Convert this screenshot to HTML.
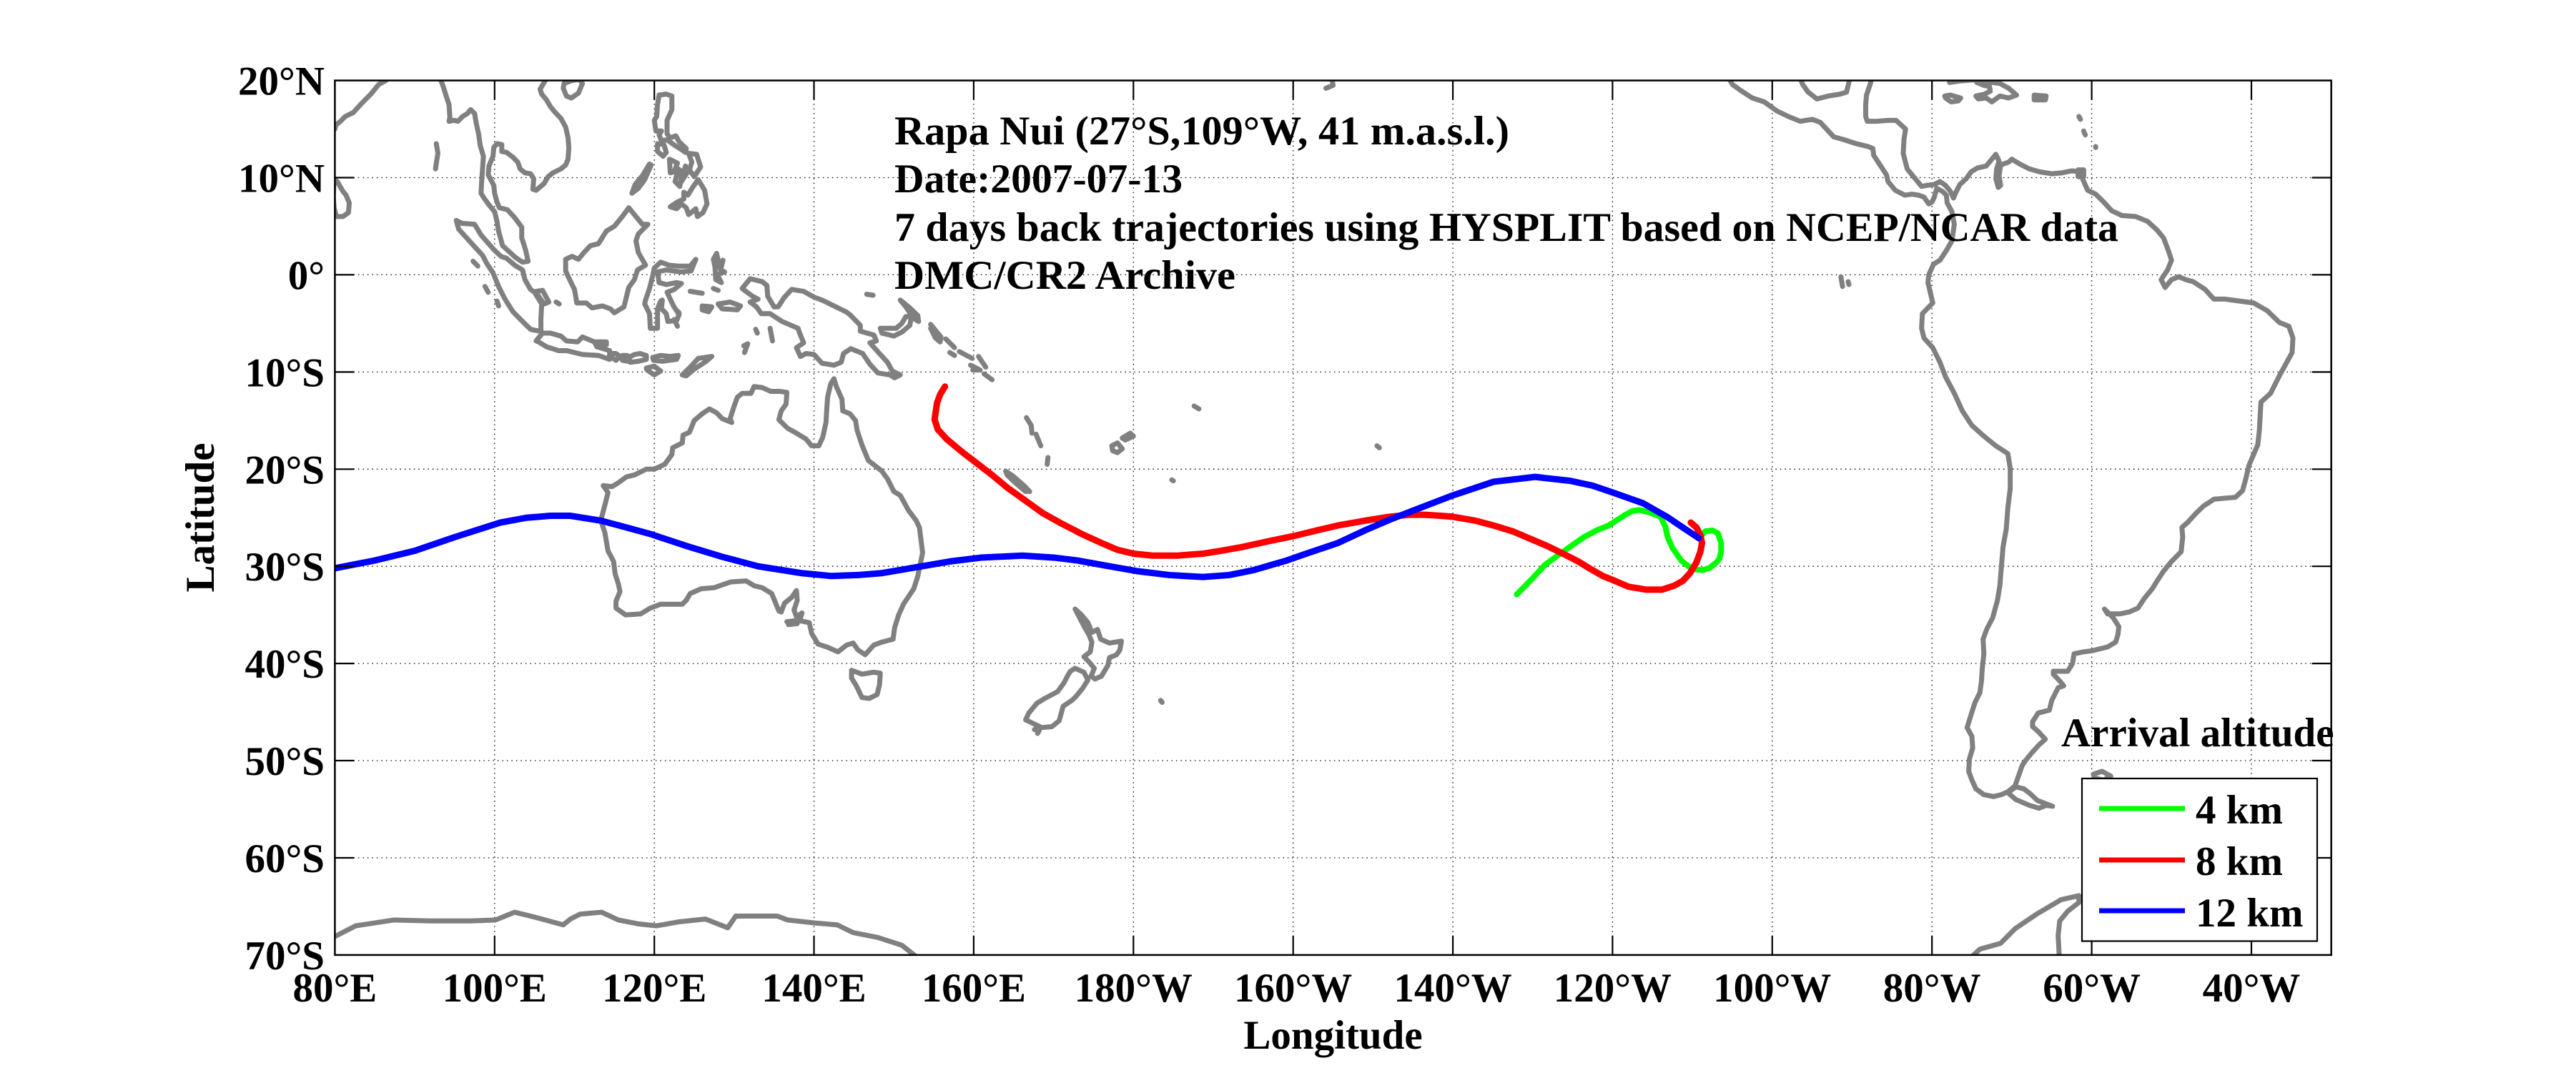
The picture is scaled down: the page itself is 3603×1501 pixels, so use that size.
<!DOCTYPE html>
<html><head><meta charset="utf-8">
<style>
html,body{margin:0;padding:0;background:#fff;}
svg{display:block;}
.c{fill:none;stroke:#808080;stroke-width:7;vector-effect:non-scaling-stroke;stroke-linejoin:round;stroke-linecap:round;}
.t{fill:none;stroke-width:9;vector-effect:non-scaling-stroke;stroke-linejoin:round;stroke-linecap:round;}
text{font-family:"Liberation Serif","Times New Roman",serif;font-weight:bold;font-size:57px;fill:#000;}
.g{stroke:#000;stroke-width:1.3;stroke-dasharray:1.5 5;fill:none;}
.k{stroke:#000;stroke-width:2.2;}
</style></head><body>
<svg width="3603" height="1501" viewBox="0 0 3603 1501" xmlns="http://www.w3.org/2000/svg">
<rect width="3603" height="1501" fill="#fff"/>
<defs><clipPath id="ax"><rect x="468.4" y="112.6" width="2792.3" height="1223.3"/></clipPath></defs>

<!-- grid -->
<g class="g">
<path d="M691.8 112.6V1335.9M915.2 112.6V1335.9M1138.5 112.6V1335.9M1361.9 112.6V1335.9M1585.3 112.6V1335.9M1808.7 112.6V1335.9M2032.1 112.6V1335.9M2255.4 112.6V1335.9M2478.8 112.6V1335.9M2702.2 112.6V1335.9M2925.6 112.6V1335.9M3149 112.6V1335.9"/>
<path d="M468.4 248.5H3260.7M468.4 384.4H3260.7M468.4 520.4H3260.7M468.4 656.3H3260.7M468.4 792.2H3260.7M468.4 928.1H3260.7M468.4 1064H3260.7M468.4 1200H3260.7"/>
</g>

<g clip-path="url(#ax)">
<g transform="matrix(11.169 0 0 -13.592 -425.12 384.44)">
<!-- India & Sri Lanka -->
<path class="c" d="M80.0,15.0 80.1,15.4 80.7,15.8 81.3,16.3 82.3,16.7 83.3,17.6 84.5,18.6 85.5,19.6 86.4,20 87,21"/>
<path class="c" d="M79.9,9.8 80.3,9.6 81,8.6 81.4,8.2 81.8,7.4 81.7,6.4 81,6 80.2,6 79.9,6.9 79.8,8 79.9,9.8"/>
<path class="c" d="M92.7,13.5 92.9,12.5 92.7,11.5 92.6,10.9"/>
<!-- SE Asia mainland -->
<path class="c" d="M93.2,20.2 93.6,19.3 93.9,18.5 94.3,17.5 94.4,16.2 94.3,15.8 94.9,15.9 95.4,15.8 96,16.3 96.6,16.6 97.0,17.0 97.5,16.6 97.7,15.6 98.0,14.5 98.2,13.3 98.6,12.2 98.5,11.0 98.4,9.9 98.3,8.4 98.6,8.0 99.2,7.3 100.0,6.5 100.3,5.5 100.5,4.5 101.0,3.0 101.8,2.4 102.6,1.8 103.5,1.3 104.2,1.4 103.9,2.5 103.4,3.8 103.4,4.9 102.5,5.9 101.6,6.7 100.6,6.9 100.3,7.5 100.0,8.4 99.9,9.2 99.2,10.3 99.3,11.2 99.8,12.2 99.9,13.1 100.3,13.5 100.9,13.4 100.9,12.7 101.5,12.6 102.3,12.1 102.9,11.6 103.2,10.9 103.8,10.5 104.5,10.4 104.9,9.9 104.8,8.8 105.2,8.7 106.2,9.4 106.7,10.1 107.3,10.5 108.3,10.9 108.9,11.3 109.2,11.9 109.3,13.1 109.2,14.1 108.9,15.2 108.3,16.1 107.5,16.8 107.0,17.3 106.5,18.0 105.9,18.6 105.7,19.1 106.2,19.8 106.6,20.3 107.0,20.8"/>
<path class="c" d="M108.6,19.2 109,18.4 109.6,18.2 110.5,18.7 111,19.7 110.6,20.1 109.7,20 108.7,19.7 108.6,19.2"/>
<!-- Sumatra -->
<path class="c" d="M95.2,5.6 95.9,5.3 97.5,5.2 98.3,4.1 99.9,2.6 100.8,1.9 101.5,1.7 102.5,1 103.5,0.5 103.8,-0.5 104.5,-1.5 105,-1.8 105.9,-3 105.8,-4.5 105.8,-5.8 105,-5.7 104.5,-5.6 103.5,-4.8 102.3,-3.8 101.3,-2.5 100.5,-1.2 99.8,0.2 99,1.2 98.5,2 97.6,2.8 96.5,3.8 95.5,4.7 95.2,5.6"/>
<path class="c" d="M97.3,1.4 97.9,0.9M98.8,-1.2 99.2,-1.8M100.3,-2.7 100.5,-3.2M105.2,-1.7 106,-1.6 106.8,-2.8 106.2,-3 105.5,-2.2 105.2,-1.7M107.7,-2.8 108.1,-3"/>
<!-- Java & Lesser Sunda -->
<path class="c" d="M105.2,-6.8 106,-6 107,-6 108.3,-6.3 109,-6.8 110.4,-6.9 111,-6.4 112.5,-6.9 112.8,-7.4 114.4,-7.8 114.4,-8.7 113,-8.3 111,-8.2 109,-7.8 108,-7.8 106.5,-7.4 105.5,-6.9 105.2,-6.8"/>
<path class="c" d="M112.7,-6.9 114,-6.9 114,-7.2 112.8,-7.2Z M114.5,-8.1 115.2,-8.1 115.7,-8.4 115.2,-8.8 114.5,-8.4Z M116,-8.3 116.6,-8.3 116.7,-8.9 116,-8.8Z M116.8,-8.5 117.5,-8.2 118.2,-8.1 119,-8.3 119,-8.7 118,-8.9 117,-9.0Z M119.8,-8.5 120.8,-8.3 122,-8.4 123,-8.3 122.8,-8.7 121,-8.9 119.9,-8.8Z M119,-9.6 120,-9.4 120.8,-9.9 120,-10.3 119.1,-9.8Z M123.5,-10.3 124.5,-9.5 125.5,-8.6 127.2,-8.4 126.5,-8.9 125,-9.7 124,-10.4Z"/>
<!-- Borneo -->
<path class="c" d="M108.9,1.6 109.7,1.9 110.5,1.6 111.2,2.3 112,3 113,3.2 114,4.5 115,5 116,6 116.8,6.9 117.7,6 118.5,5.2 119.2,5.2 118,4.2 117.7,3.5 118,2.3 118.9,1 117.9,0.5 117.5,-0.5 116.8,-1.3 116.5,-2.3 116.2,-3.3 115,-3.9 114.5,-3.5 113.5,-3.2 112.2,-3.4 111.5,-2.9 110.3,-2.9 110,-1.5 109.4,-0.5 108.9,0.4 108.9,1.6"/>
<!-- Sulawesi -->
<path class="c" d="M120.8,1.3 121.8,1.0 123,0.9 124.5,0.9 125.2,1.6 124.6,0.4 123.3,0.3 121.5,0.5 120.4,0.3 120.6,-0.8 121.5,-1 122.8,-0.8 123.4,-0.9 122.5,-1.5 121.6,-1.8 122.4,-3.2 123.1,-4.1 122.8,-4.7 121.7,-4.8 121.5,-4.0 120.9,-3.5 121,-2.6 120.8,-2.7 120.4,-3.5 120.4,-5.5 119.5,-5.5 119.4,-4 118.8,-3 118.9,-2.6 119.4,-1.4 119.8,-0.1 120.0,0.7 120.8,1.3"/>
<path class="c" d="M122.5,-4.6 122.9,-5.3M122.7,-3.6 123.1,-3.9"/>
<!-- Philippines -->
<path class="c" d="M120.6,18.5 121.5,18.6 122.2,18.4 122.2,17 121.6,15.9 121.6,14.5 122,14.1 122.7,14.3 123.1,13.7 124,13 123.9,12.6 123.2,13 122.6,13.3 121.6,13.9 120.9,13.8 120.6,14.4 120.9,14.8 120.2,14.8 120,15.9 120.3,16.3 120.4,17.5 120.6,18.5"/>
<path class="c" d="M120.4,13.5 121.2,13.4 121.5,12.6 121.1,12.2 120.4,12.7Z M121.9,11.9 122.9,11.5 122.5,10.6 122,10.5Z M123,10.9 123.5,10.6 123.2,9.1 122.6,9.6Z M123.9,11.2 124.1,10.5 123.4,9.6Z M124.3,12.5 125.3,12.4 125.8,11.1 125,10.1 124.4,10.8 124.7,11.6Z"/>
<path class="c" d="M122,7 122.9,7.5 123.7,7.8 123.7,8.5 124.2,8.2 124.8,9 125.5,9.8 126.3,8.7 126.6,7.3 126.1,6.4 125.4,6.0 125.2,6.8 124.3,6.2 124,6.9 123.4,7.3 122.8,6.8 122,7"/>
<path class="c" d="M117.2,8.4 118,8.9 118.8,9.8 119.6,11.3 119.4,11.4 118.5,10.2 117.6,9.3 117.2,8.4"/>
<!-- Moluccas -->
<path class="c" d="M127.8,2.2 128,1.5 127.8,0.8 128.6,1.5 128.3,0.5 128.8,0.3 127.9,0 128.4,-0.8 127.7,-0.5 127.6,0.8 127.4,1.6 127.8,2.2"/>
<path class="c" d="M128,-3 129.5,-2.8 130.8,-3.2 130.4,-3.6 128.5,-3.5Z M126,-3.2 127.2,-3.3 126.8,-3.8 126,-3.6Z M134.5,-5.5 134.8,-6.8M132.7,-5.6 132.9,-6M131.2,-7.3 131.7,-7.1 131.3,-8M124.5,-1.7 126,-1.9M127.4,-1.4 128,-1.6"/>
<!-- New Guinea -->
<path class="c" d="M131,-1.4 132,-0.4 133.5,-0.7 134.1,-1.1 134.2,-2.2 135,-3.3 135.5,-3.3 136.3,-2.3 137.2,-1.5 138.7,-1.7 140,-2.3 141,-2.6 142.5,-3.2 144,-3.8 144.5,-4.1 145.8,-5.2 145.8,-5.8 147.5,-6.2 147.8,-6.8 147,-7 148.2,-8.1 149.2,-9 149.8,-9.9 150.8,-10.3 150.1,-10.6 149.5,-10.3 148,-10.1 147,-9.2 146.1,-8.1 144.6,-7.6 143.7,-8.1 143.4,-9 142.5,-9.3 141,-9.1 140,-8.2 139,-8.1 138.3,-8.4 137.8,-7.5 138.7,-7 138.2,-6 138,-5.5 136,-4.8 134.5,-4 133.4,-4 132.8,-3.3 132,-2.8 133,-2.5 132.3,-2.2 131.3,-1.6 131,-1.4"/>
<path class="c" d="M148.3,-5.5 149.5,-5.5 150.3,-5.5 151,-5 151.5,-4.3 152.2,-4.3 152,-5.2 151,-5.9 150,-6.3 148.5,-6 148.3,-5.5"/>
<path class="c" d="M150.8,-2.6 152,-3.4 153,-4.2 153.1,-4.8 152.5,-4.5 151.5,-3.3 150.8,-2.6"/>
<path class="c" d="M146.6,-2.0 147.4,-2.1M154.6,-5.1 155.9,-6.4 155.8,-6.9 155.2,-6.5 154.6,-5.5M156.5,-6.6 157.6,-7.5M158.2,-7.9 159.8,-8.6M157,-8 157.6,-8.3M159.6,-9.3 160.8,-9.8 159.9,-9.8M160.6,-8.4 161.5,-9.5M161.3,-10.2 162.3,-10.8"/>
<!-- Vanuatu, New Caledonia, Fiji etc -->
<path class="c" d="M166.6,-14.7 167.2,-15.5 167.3,-16.3M167.8,-16.4 168.4,-17.6M169.3,-18.8 169.2,-19.5"/>
<path class="c" d="M164,-20.2 164.9,-20.7 166.3,-21.7 167,-22.3 166.5,-22.3 165.2,-21.4 164.2,-20.6 164,-20.2"/>
<path class="c" d="M177.3,-17.6 178,-17.3 178.6,-17.9 178,-18.3 177.4,-18.1Z M178.6,-16.8 179.6,-16.3 180,-16.6 179,-17Z"/>
<path class="c" d="M187.6,-13.5 188.2,-13.8M184.8,-21.1 185,-21.2M210.5,-17.6 210.8,-17.8M183.4,-43.8 183.6,-44M204.1,19.2 205,19.5 204.9,20M268.6,-0.2 268.8,-1.2M269.5,-0.7 269.6,-1"/>
<!-- Australia -->
<path class="c" d="M113.6,-21.7 114.2,-22.4 113.9,-23.4 113.3,-25.3 113.8,-26.5 114.2,-28.4 114.9,-29.5 115.1,-30.8 115.5,-31.8 115.7,-32.6 115.2,-33.6 115.2,-34.3 116.4,-35 118.3,-34.9 119.5,-34.3 120.8,-33.9 122,-33.9 123.5,-33.9 124,-33.5 124.5,-32.8 125.9,-32.3 127.5,-32.2 129.6,-31.6 131.5,-31.5 132.5,-32 133.5,-32.2 134.7,-32.8 135.6,-34.6 135.9,-34.7 136.3,-33.8 137.2,-33.2 137.8,-32.5 137.9,-33.5 137.5,-34.5 137.8,-35.2 138.5,-34.8 138.2,-35.6 139.4,-35.8 139.7,-36.9 140.5,-38 141.6,-38.3 143,-38.8 144.1,-38.1 144.9,-37.9 145.5,-38.6 146.4,-39.1 147.5,-38.1 148.5,-37.8 149.9,-37.5 150.1,-36.3 150.6,-35 151.2,-33.9 152.5,-32.3 153,-31 153.6,-28.6 153.2,-26 152.8,-25.3 151.8,-24.2 150.8,-22.7 150,-22.3 149.2,-21 148.5,-20.2 146.8,-19.1 146,-17.5 145.4,-16 145.2,-15 144.5,-14.3 143.6,-14 143.5,-12.8 142.8,-11.5 142.5,-10.7 142.1,-11.2 141.7,-12.6 141.6,-13.8 141.5,-15.2 141.1,-16.7 140.6,-17.6 139.7,-17.6 139,-16.9 137.8,-16.3 136.7,-15.8 135.6,-14.9 135.9,-14 136.5,-13.3 136.6,-12.1 135.8,-12 134.6,-12 133.5,-11.6 132.5,-11.5 132.1,-12.2 131,-12.2 130.4,-12.6 130,-13.5 129.5,-14.8 129.7,-15.2 128.5,-14.8 127.8,-14.2 126.9,-13.8 126,-14.3 125,-15 124.4,-16.2 123.6,-16.5 123.5,-17.3 122.3,-17.8 122.2,-18.5 121.3,-19.5 120,-20 119,-20 117.5,-20.6 116.5,-20.8 115.5,-21.4 114.7,-21.8 113.6,-21.7"/>
<path class="c" d="M144.7,-40.7 146,-41.1 147.5,-40.9 148.3,-41 148.2,-42.2 147.9,-43.2 146.9,-43.6 146,-43.5 145.3,-42.3 144.7,-41.5 144.7,-40.7"/>
<path class="c" d="M136.6,-35.7 137.6,-35.6 137.9,-35.9 136.8,-36"/>
<!-- New Zealand -->
<path class="c" d="M172.7,-34.4 173.5,-35 174.3,-35.8 174.8,-36.8 175.5,-36.5 175.9,-37.5 177,-37.9 178.5,-37.7 178.3,-38.6 177.9,-39.1 177,-39.4 176.8,-40.2 176,-41.3 175.2,-41.6 174.7,-41.3 175.1,-40.5 174.4,-39.8 173.8,-39.3 174.6,-38.8 174.8,-37.8 174.4,-37 173.9,-36.3 173.2,-35.2 172.7,-34.4"/>
<path class="c" d="M172.7,-40.5 173.8,-40.9 174.3,-41.7 173.6,-42.6 172.8,-43.4 172.3,-43.8 171.2,-44.4 170.7,-45.9 169.8,-46.5 168.5,-46.6 167.5,-46.2 166.5,-45.8 166.9,-45.1 167.9,-44.1 168.9,-43.6 170.5,-42.9 171.3,-42 171.8,-41.2 172.1,-40.8 172.7,-40.5M167.6,-46.8 168.2,-46.9 168,-47.2"/>
<!-- Antarctica -->
<path class="c" d="M75,-68.5 80,-68.1 82.6,-67 87.4,-66.4 92,-66.5 97,-66.5 100.1,-66.4 102.5,-65.6 105,-66.1 108.6,-66.9 109.5,-66.3 110.7,-65.8 113.4,-65.6 115.5,-66.4 118,-66.8 120.3,-67 123,-66.6 126.4,-66.3 129.2,-67.2 130.2,-66 133,-66 135.4,-66 136.7,-66.4 140,-66.7 142.9,-66.9 144.9,-67.7 148,-68.2 151,-69 153,-70.3 155,-71.5"/>
<path class="c" d="M282,-72 284.2,-70.8 286,-69.4 288.6,-68.8 290.4,-67.3 293.1,-65.8 296.2,-64.3 298.4,-63.9 298.4,-64.6 297,-65.5 296,-66.5 295.8,-68 296,-71"/>
<!-- Americas -->
<path class="c" d="M253.5,21 254.5,20.3 255,19.6 256,19 257.5,18.2 259,17.8 260.5,16.9 262,16.3 263.5,15.8 265,16 266,15.7 267.7,14.2 269,13.9 270.5,13.5 272,13.2 272.6,13.0 272.7,12.3 273.5,11.3 274.3,10.3 274.5,9.6 275.4,8.7 276.6,8.2 277.5,8.3 278.3,8.2 279,8.0 279.6,7.3 280,7.5 280.3,8.0 280.6,8.9 281.3,8.6 281.8,8.2 281.9,7.4 282.5,6.5 282.8,5.2 282.5,3.5 281.8,2.5 281,1.5 280.2,1.1 279.6,0 279.5,-0.8 279.9,-2.2 280.1,-2.9 278.8,-4 278.7,-5.5 279,-6.5 280.1,-7.5 281,-9 281.7,-10.5 282.8,-12.2 283.8,-14 285,-15.5 286.5,-16.6 288,-17.6 289.5,-18.4 289.8,-19.9 289.8,-22 289.5,-24 289.3,-26.2 288.9,-28 288.7,-30 288.5,-32 288.2,-33.5 287.6,-35.3 286.9,-36.4 286.4,-37.5 286.5,-39 286.3,-40.5 286.2,-41.8 286,-43 285.4,-44 285,-45 284.4,-46.6 285,-47.5 285.1,-48.7 284.7,-49.8 284.6,-51.1 285,-52 285.5,-52.9 286.5,-53.5 287.7,-53.7 288.7,-53.5 289.5,-53.2 290.4,-52.6 291,-51.2 291.3,-50.5 291.7,-50 292.5,-49.2 293.5,-48.3 294.2,-47.8 293.3,-47 292.6,-46.5 292.6,-46 293.3,-45.1 294.7,-44.8 295,-43.8 295.8,-42.5 296.5,-42.3 296,-41.8 295.2,-41.1 295.2,-40.8 297,-40.8 297.6,-40 297.8,-39 299,-38.8 300,-38.7 302,-38.3 303,-37.8 303.3,-37 303.4,-36.2 302.7,-35.3 301.6,-34.4 302,-34.9 303.5,-34.9 304.7,-34.7 305.8,-34.3 306.6,-33.3 307.6,-32.3 308.2,-31.5 309,-30.5 310,-29.5 311.2,-28.5 311.4,-27 311.3,-26 312,-25.5 313,-24.6 314,-23.8 315.3,-23.1 316.5,-23 318,-22.9 318.9,-22.2 319.3,-21 319.7,-19.6 320.8,-17.5 321,-16 321.1,-14.5 321.2,-13.1 322.4,-12.2 323.5,-10.4 324.3,-9.2 325.1,-8 325.2,-6.5 324.7,-5.3 323.5,-4.9 322,-3.7 320.3,-2.9 318.5,-2.7 316.7,-2.5 315.3,-2.5 314.2,-1.5 312.7,-0.7 311.8,-0.5 310.9,-0.2 310,-0.5 309.2,-1.3 308.7,-0.5 309.5,0.5 310,1.5 309.6,2.5 309,3.8 308.2,4.6 307,5.5 305.5,6 303.8,6.1 302.5,6.6 301.5,7.5 300.5,8.3 299.5,8.7 298.9,9.8 298.8,10.6 297.5,10.7 296.3,10.5 295,10.4 293.5,10.6 292.2,10.9 291,11.4 290,11.9 289.6,11.6 288.6,11.3 288.4,10.2 288.6,9.2 288.3,9 288,9.9 288.1,10.9 288.4,11.7 288,12.4 287.4,11.8 286.8,11.2 285.7,11 284.9,10.6 284.3,9.9 283.5,9.3 283,8.5 282.7,7.9 282.3,8.6 281.7,9.2 281,9.6 280.3,9.3 279.3,9.2 278.7,9.1 278,9.8 276.9,10.9 276.4,12.5 276.5,14 276.7,15 275.5,15.9 274.5,15.9 273,15.8 271.9,15.8 271.7,16.3 271.7,17.5 271.8,18.5 272.3,19.7 272.7,21.4"/>
<path class="c" d="M270,21.3 269.7,20.5 269.6,19.8 269.3,18.8 268.5,18.6 267,18.4 265.6,18.1 264.5,18.8 263.8,19.6 263.4,20.5 262.6,21.5"/>
<path class="c" d="M289.5,-53.3 290.5,-54 292.2,-54.6 293.4,-54.9 294.3,-54.6 295.1,-54.7 293.2,-54.1 292.3,-53.4 291.5,-52.9 290.5,-52.7 289.5,-53.3"/>
<path class="c" d="M300.2,-51.4 301.3,-51.1 302.4,-51.6 301.5,-52 300.4,-51.8Z"/>
<path class="c" d="M281.6,18.4 282.3,18.5 283.6,18.2 283.3,17.9 282.4,17.8 281.7,18.2Z M285.6,19.8 286.4,19.9 287.5,19.8 288.5,19.7 289.6,19.2 290.6,18.5 289.6,18.2 288.5,18.4 287.5,17.8 286.8,18.2 285.8,18.1 285.5,18.4 286.6,18.6 287.3,18.9 287.2,19.4 286.5,19.5Z M292.8,18.5 294.3,18.4 294.2,18 292.8,18Z M282.2,19.8 283.5,19.95 285.8,20.1"/>
<path class="c" d="M298.4,16.3 298.6,16M299,14.8 299.2,14.4M300.5,13.2 300.5,13.1M298.3,10.8 299,10.8 299,10.1 298.3,10.1Z"/>

<!-- trajectories -->
<path class="t" stroke="#00ff00" style="stroke-width:8" d="M228,-32.9 229.8,-31.4 231.6,-29.8 233.8,-28.5 236.4,-27.0 238,-26.3 239.5,-25.8 241.6,-24.7 242.5,-24.3 243.4,-24.2 244.8,-24.5 246,-24.9 246.6,-25.9 246.9,-27 247.5,-28.1 248.6,-29.4 249.5,-30 250.3,-30.3 251.2,-30.4 252.1,-30.2 253.0,-29.6 253.4,-29.2 253.6,-28.4 253.6,-27.6 253.2,-26.6 252.5,-26.3 251.6,-26.4 251.0,-27.0"/>
<path class="t" stroke="#ff0000" d="M156.4,-11.5 155.8,-12.3 155.4,-13.2 155.1,-14.9 155.5,-15.9 156.6,-16.9 158.5,-18.2 160.4,-19.4 162.3,-20.6 164.2,-21.9 166.4,-23.2 168.6,-24.5 171,-25.6 173.6,-26.7 176,-27.6 178,-28.3 180,-28.7 182.4,-28.9 185.5,-28.9 188.7,-28.7 191,-28.4 193.7,-28.0 197,-27.4 200,-26.9 203,-26.3 205.6,-25.8 209,-25.3 212.1,-24.9 214.5,-24.7 216.5,-24.7 218.5,-24.8 220,-24.9 222.8,-25.3 225.1,-25.8 227.5,-26.4 229.5,-27.1 231.8,-27.9 233.8,-28.7 235.7,-29.5 237.3,-30.3 238.8,-31.0 240,-31.4 242,-32.1 244.2,-32.4 246.2,-32.4 247.7,-32.0 248.8,-31.5 249.7,-30.7 250.5,-29.6 251.0,-28.5 251.2,-27.6 251.0,-26.8 250.5,-26.0 249.8,-25.5"/>
<path class="t" stroke="#0000ff" d="M79,-30.4 80,-30.2 85,-29.4 90,-28.4 95,-27.0 100.7,-25.5 104,-25 107,-24.8 109.5,-24.8 113.3,-25.3 116.5,-26 119.6,-26.7 124,-27.9 128.4,-29.0 133,-30 138.4,-30.7 142.2,-31.0 145.5,-30.9 148.5,-30.7 153.5,-30.0 157,-29.5 161,-29.1 166.1,-28.9 170,-29.1 173,-29.4 177,-30 180.5,-30.5 184.5,-30.9 188.7,-31.1 192,-30.9 195,-30.4 199.2,-29.4 202,-28.6 205.6,-27.6 209,-26.3 212.1,-25.2 216.5,-23.8 220,-22.7 225.1,-21.3 230.3,-20.8 234.7,-21.2 237.5,-21.7 240,-22.4 243.8,-23.5 246.8,-24.9 248.8,-26 250.8,-27.1"/>
</g>
</g>

<!-- axes box & ticks -->
<rect x="468.4" y="112.6" width="2792.3" height="1223.3" fill="none" stroke="#000" stroke-width="2.5"/>
<g class="k">
<path d="M691.8 1335.9v-27M915.2 1335.9v-27M1138.5 1335.9v-27M1361.9 1335.9v-27M1585.3 1335.9v-27M1808.7 1335.9v-27M2032.1 1335.9v-27M2255.4 1335.9v-27M2478.8 1335.9v-27M2702.2 1335.9v-27M2925.6 1335.9v-27M3149 1335.9v-27"/>
<path d="M691.8 112.6v27M915.2 112.6v27M1138.5 112.6v27M1361.9 112.6v27M1585.3 112.6v27M1808.7 112.6v27M2032.1 112.6v27M2255.4 112.6v27M2478.8 112.6v27M2702.2 112.6v27M2925.6 112.6v27M3149 112.6v27"/>
<path d="M468.4 248.5h27M468.4 384.4h27M468.4 520.4h27M468.4 656.3h27M468.4 792.2h27M468.4 928.1h27M468.4 1064h27M468.4 1200h27"/>
<path d="M3260.7 248.5h-27M3260.7 384.4h-27M3260.7 520.4h-27M3260.7 656.3h-27M3260.7 792.2h-27M3260.7 928.1h-27M3260.7 1064h-27M3260.7 1200h-27"/>
</g>

<!-- y tick labels -->
<g text-anchor="end">
<text x="454" y="132.6">20°N</text>
<text x="454" y="268.5">10°N</text>
<text x="454" y="404.4">0°</text>
<text x="454" y="540.4">10°S</text>
<text x="454" y="676.3">20°S</text>
<text x="454" y="812.2">30°S</text>
<text x="454" y="948.1">40°S</text>
<text x="454" y="1084">50°S</text>
<text x="454" y="1220">60°S</text>
<text x="454" y="1355.9">70°S</text>
</g>
<!-- x tick labels -->
<g text-anchor="middle">
<text x="468.4" y="1401">80°E</text>
<text x="691.8" y="1401">100°E</text>
<text x="915.2" y="1401">120°E</text>
<text x="1138.5" y="1401">140°E</text>
<text x="1361.9" y="1401">160°E</text>
<text x="1585.3" y="1401">180°W</text>
<text x="1808.7" y="1401">160°W</text>
<text x="2032.1" y="1401">140°W</text>
<text x="2255.4" y="1401">120°W</text>
<text x="2478.8" y="1401">100°W</text>
<text x="2702.2" y="1401">80°W</text>
<text x="2925.6" y="1401">60°W</text>
<text x="3149" y="1401">40°W</text>
<text x="1864.5" y="1467">Longitude</text>
<text transform="translate(299,724) rotate(-90)">Latitude</text>
</g>

<!-- title text -->
<text x="1251" y="202" textLength="860" lengthAdjust="spacingAndGlyphs">Rapa Nui (27°S,109°W, 41 m.a.s.l.)</text>
<text x="1251" y="269" textLength="403" lengthAdjust="spacingAndGlyphs">Date:2007-07-13</text>
<text x="1251" y="337" textLength="1712" lengthAdjust="spacingAndGlyphs">7 days back trajectories using HYSPLIT based on NCEP/NCAR data</text>
<text x="1251" y="404" textLength="477" lengthAdjust="spacingAndGlyphs">DMC/CR2 Archive</text>

<!-- legend -->
<text x="2883" y="1044">Arrival altitude</text>
<rect x="2912" y="1089" width="329" height="227.5" fill="#fff" stroke="#000" stroke-width="2.2"/>
<path d="M2936 1131H3056" stroke="#00ff00" stroke-width="7"/>
<path d="M2936 1203H3056" stroke="#ff0000" stroke-width="7"/>
<path d="M2936 1274H3056" stroke="#0000ff" stroke-width="7"/>
<text x="3071" y="1152">4 km</text>
<text x="3071" y="1224">8 km</text>
<text x="3071" y="1296">12 km</text>
</svg>
</body></html>
